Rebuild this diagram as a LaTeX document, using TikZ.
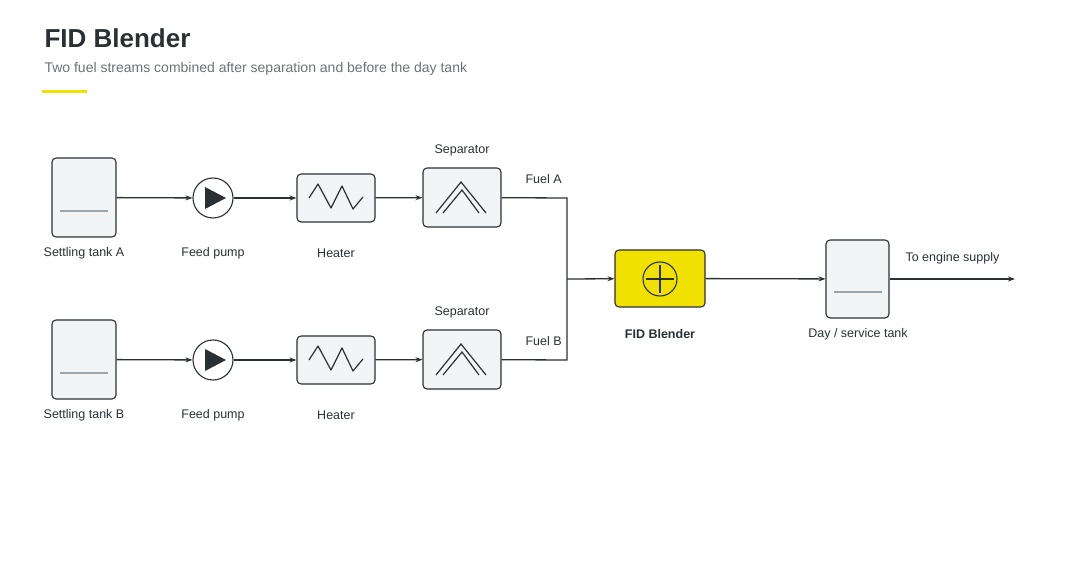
\documentclass[tikz,border=0pt]{standalone}
\usepackage{fontspec}
\setmainfont{Liberation Sans}
\usetikzlibrary{arrows.meta}
\definecolor{ink}{HTML}{2B3035}
\definecolor{boxfill}{HTML}{F2F4F6}
\definecolor{lvl}{HTML}{9AA5AE}
\definecolor{accent}{HTML}{F0E100}
\definecolor{subgrey}{HTML}{6B7278}
\tikzset{
	unit/.style = {draw = ink, fill = boxfill, rounded corners = 4pt, line width = 1.1pt, inner sep = 0pt},
	lbl/.style = {font = \fontsize{12.5}{14}\selectfont, text = ink},
	flow/.style = {ink, line width = 1.3pt, -{Stealth[length = 7pt, width = 5pt]}},
	pipe/.style = {ink, line width = 1.3pt}
}
\begin{document}
\begin{tikzpicture}[x = 1pt, y = -1pt]
\useasboundingbox (0, 0) rectangle (1080, 564);

% Title block

\node [anchor = west, font = \fontsize{26}{30}\selectfont\bfseries, text = ink] (title) at (41, 38) {FID Blender};
\node [anchor = west, font = \fontsize{14}{16}\selectfont, text = subgrey] (subtitle) at (41, 69) {Two fuel streams combined after separation and before the day tank};
\fill [accent] (42, 90.5) rectangle (87, 93.5);

% Two supply rows

\foreach \r/\dy in {A/0, B/162}
{

	% Settling tank

	\node [unit, minimum width = 64pt, minimum height = 79pt] (tank\r) at (84, 197.5 + \dy) {};
	\draw [lvl, line width = 1.3pt] (60, 211 + \dy) -- (108, 211 + \dy);
	\node [lbl] (tank\r lbl) at (84, 253 + \dy) {Settling tank \r};

	% Feed pump

	\node [circle, draw = ink, fill = white, line width = 1.1pt, minimum size = 40pt, inner sep = 0pt] (pump\r) at (213, 198 + \dy) {};
	\fill [ink] (205, 187 + \dy) -- (226, 198 + \dy) -- (205, 209 + \dy) -- cycle;
	\node [lbl] (pump\r lbl) at (213, 253 + \dy) {Feed pump};

	% Heater

	\node [unit, minimum width = 78pt, minimum height = 48pt] (heat\r) at (336, 198 + \dy) {};
	\draw [ink, line width = 1.2pt, line join = round] (309, 198 + \dy) -- (318, 184 + \dy) -- (331, 208 + \dy) -- (342, 186 + \dy) -- (353, 209 + \dy) -- (363, 197 + \dy);
	\node [lbl] (heat\r lbl) at (336, 253 + \dy) {Heater};

	% Separator

	\node [unit, minimum width = 78pt, minimum height = 59pt] (sep\r) at (462, 197.5 + \dy) {};
	\draw [ink, line width = 1.2pt] (436, 213 + \dy) -- (461, 182 + \dy) -- (486, 213 + \dy);
	\draw [ink, line width = 1.2pt] (443, 213 + \dy) -- (462, 190 + \dy) -- (479, 213 + \dy);
	\node [lbl] (sep\r lbl) at (462, 150 + \dy) {Separator};
	\node [lbl, anchor = west] (fuel\r) at (522, 179 + \dy) {Fuel \r};

	% Row connectors

	\draw [flow] (tank\r) -- (pump\r);
	\draw [flow] (pump\r) -- (heat\r);
	\draw [flow] (heat\r) -- (sep\r);
}

% Blender and day tank

\node [unit, fill = accent, minimum width = 90pt, minimum height = 57pt] (blend) at (660, 278.5) {};
\draw [ink, line width = 1.1pt] (660, 279) circle (17pt);
\draw [ink, line width = 1.1pt] (646, 279) -- (674, 279) (660, 265) -- (660, 293);
\node [lbl, font = \fontsize{12.5}{14}\selectfont\bfseries] (blendlbl) at (660, 334) {FID Blender};

\node [unit, minimum width = 63pt, minimum height = 78pt] (day) at (857.5, 279) {};
\draw [lvl, line width = 1.3pt] (834, 292) -- (882, 292);
\node [lbl] (daylbl) at (858, 334) {Day / service tank};

\coordinate (join) at (567, 279);
\coordinate (out) at (1015, 279);

% Merge and outlet

\draw [pipe] (sepA) -- (567, 198) -- (join);
\draw [pipe] (sepB) -- (567, 360) -- (join);
\draw [flow] (join) -- (blend);
\draw [flow] (blend) -- (day);
\draw [flow] (day) -- (out);
\node [lbl, anchor = west] (outlbl) at (902, 258) {To engine supply};

\end{tikzpicture}
\end{document}
